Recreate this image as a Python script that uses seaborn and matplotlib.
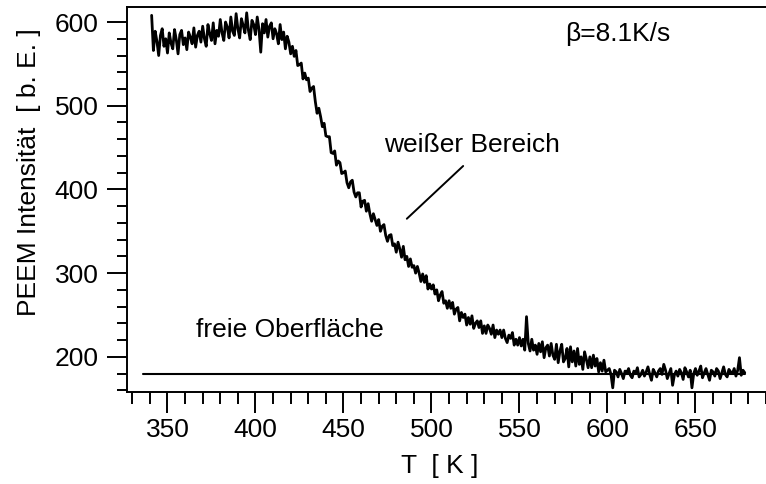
import numpy as np
import pandas as pd
import matplotlib
matplotlib.use("Agg")
import matplotlib.pyplot as plt
from matplotlib.ticker import MultipleLocator
import seaborn as sns

# Temperature ramp (1 K steps) and PEEM intensity of the bright region
kelvin = np.arange(341, 679)
intensity = [
    608, 566, 589, 577, 560, 584, 592, 571, 580, 563,
    587, 575, 568, 591, 579, 562, 585, 590, 573, 581,
    567, 588, 582, 574, 593, 570, 584, 589, 576, 595,
    580, 571, 597, 586, 578, 599, 574, 590, 583, 603,
    587, 578, 600, 594, 581, 606, 589, 584, 610, 592,
    581, 604, 596, 587, 611, 590, 579, 602, 597, 585,
    606, 591, 564, 598, 587, 603, 582, 595, 599, 580,
    592, 586, 574, 597, 579, 588, 568, 583, 576, 562,
    571, 559, 566, 548, 549, 551, 532, 539, 531, 533,
    517, 521, 523, 505, 491, 497, 487, 475, 479, 464,
    463, 463, 444, 443, 446, 429, 434, 432, 419, 420,
    422, 408, 402, 409, 411, 397, 391, 396, 396, 379,
    386, 387, 374, 383, 371, 362, 371, 364, 357, 364,
    350, 356, 358, 345, 338, 345, 346, 333, 335, 325,
    337, 329, 319, 332, 316, 320, 308, 317, 307, 309,
    300, 308, 300, 290, 299, 289, 297, 281, 287, 281,
    286, 275, 280, 267, 274, 278, 264, 267, 258, 267,
    258, 265, 251, 257, 259, 243, 253, 247, 251, 238,
    247, 239, 249, 234, 240, 243, 235, 243, 228, 237,
    228, 238, 234, 227, 238, 223, 232, 227, 232, 223,
    232, 222, 217, 226, 222, 229, 214, 221, 214, 223,
    213, 221, 208, 248, 216, 207, 221, 208, 214, 203,
    216, 206, 218, 199, 211, 214, 201, 216, 202, 197,
    215, 193, 207, 215, 194, 198, 210, 188, 212, 194,
    207, 189, 210, 191, 200, 185, 206, 197, 187, 200,
    187, 202, 189, 198, 182, 193, 183, 196, 182, 184,
    186, 179, 163, 184, 182, 176, 185, 180, 174, 183,
    181, 186, 178, 175, 183, 180, 187, 176, 179, 184,
    177, 182, 188, 179, 172, 185, 181, 176, 183, 186,
    179, 191, 184, 174, 180, 186, 166, 178, 183, 177,
    185, 181, 173, 187, 182, 176, 184, 163, 180, 186,
    178, 183, 189, 175, 181, 186, 179, 172, 184, 182,
    177, 186, 183, 174, 181, 188, 179, 176, 185, 182,
    180, 186, 177, 184, 199, 178, 184, 181,
]

# Level of the free surface
free_T = [336, 678]
free_I = [180, 180]

# Leader line for the "weißer Bereich" label
leader_T = [486, 518]
leader_I = [365, 428]

sns.set_theme(style="ticks")
plt.rcParams["font.family"] = ["Liberation Sans", "DejaVu Sans"]
plt.rcParams["text.color"] = "black"
plt.rcParams["axes.labelcolor"] = "black"
plt.rcParams["xtick.color"] = "black"
plt.rcParams["ytick.color"] = "black"

FS = 19

fig = plt.figure(figsize=(7.66, 4.84), dpi=100)
ax = fig.add_axes([0.1658, 0.1901, 0.857, 0.7955])

df = pd.DataFrame({"T": kelvin, "I": intensity})
sns.lineplot(data=df, x="T", y="I", ax=ax, color="black", linewidth=2.0)
sns.lineplot(x=free_T, y=free_I, ax=ax, color="black", linewidth=1.5)
ax.plot(leader_T, leader_I, color="black", linewidth=1.4)

ax.set_xlim(327, 700)
ax.set_ylim(158, 618)

ax.xaxis.set_major_locator(MultipleLocator(50))
ax.xaxis.set_minor_locator(MultipleLocator(10))
ax.yaxis.set_major_locator(MultipleLocator(100))
ax.yaxis.set_minor_locator(MultipleLocator(20))
ax.set_yticks([200, 300, 400, 500, 600])
ax.set_xticks([350, 400, 450, 500, 550, 600, 650])

ax.tick_params(axis="both", which="both", direction="out", width=1.4,
               colors="black", labelsize=FS)
ax.tick_params(axis="x", which="major", length=15, pad=4)
ax.tick_params(axis="x", which="minor", length=8.5)
ax.tick_params(axis="y", which="major", length=14.5, pad=6)
ax.tick_params(axis="y", which="minor", length=7.5)

for side in ["left", "bottom", "top", "right"]:
    ax.spines[side].set_visible(True)
    ax.spines[side].set_linewidth(1.4)
    ax.spines[side].set_color("black")

ax.set_xlabel("T  [ K ]", fontsize=FS)
ax.set_ylabel("PEEM Intensität  [ b. E. ]", fontsize=FS)
ax.xaxis.set_label_coords(0.477, -0.162)
ax.yaxis.set_label_coords(-0.131, 0.571)

ax.text(576, 586, "β=8.1K/s", fontsize=FS, va="center", ha="left")
ax.text(473, 453, "weißer Bereich", fontsize=FS, va="center", ha="left")
ax.text(366, 232, "freie Oberfläche", fontsize=FS, va="center", ha="left")

fig.savefig("out.png", dpi=100)
